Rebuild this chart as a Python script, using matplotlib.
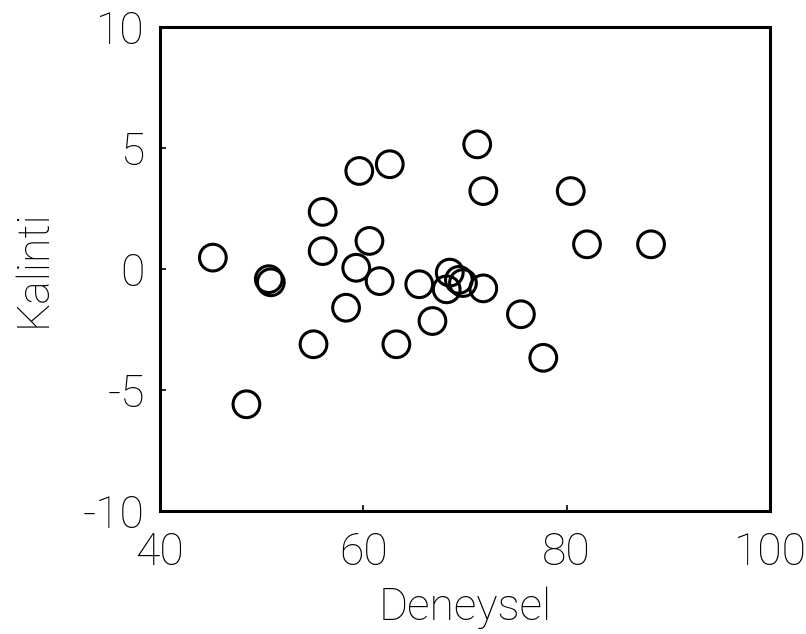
import matplotlib
matplotlib.use("Agg")
import matplotlib.pyplot as plt

# observed values vs residuals
deneysel = [45.2, 50.7, 50.9, 48.5, 55.1, 56.0, 56.0, 58.3, 59.6, 62.6,
            60.6, 59.3, 61.6, 63.25, 65.5, 66.8, 68.5, 68.2, 69.4, 69.8,
            71.8, 71.2, 71.8, 80.4, 82.0, 88.3, 75.5, 77.7]
kalinti = [0.47, -0.42, -0.55, -5.59, -3.11, 2.36, 0.74, -1.60, 4.05, 4.33,
           1.16, 0.05, -0.50, -3.11, -0.63, -2.15, -0.15, -0.84, -0.45, -0.58,
           -0.80, 5.15, 3.22, 3.22, 1.02, 1.02, -1.87, -3.67]

X_TICKS = [40, 60, 80, 100]
Y_TICKS = [-10, -5, 0, 5, 10]

plt.rcParams["font.family"] = ["Roboto", "Liberation Sans", "DejaVu Sans"]
plt.rcParams["font.weight"] = "light"
plt.rcParams["axes.unicode_minus"] = False

fig = plt.figure(figsize=(8.06, 6.34), dpi=100)
ax = fig.add_axes([160 / 806, 123 / 634, 610 / 806, 484 / 634])

ax.scatter(deneysel, kalinti, s=370, facecolors="none", edgecolors="black",
           linewidths=2.2, zorder=3)

ax.set_xlim(40, 100)
ax.set_ylim(-10, 10)
ax.set_xticks(X_TICKS)
ax.set_yticks(Y_TICKS)
ax.tick_params(direction="in", length=4, width=1.2, labelsize=32,
               colors="black")
ax.tick_params(axis="y", pad=11)
ax.tick_params(axis="x", pad=15)
for s in ax.spines.values():
    s.set_linewidth(2.2)

fig.text(46 / 806, 1 - 268 / 634, "Kalinti", rotation=90,
         rotation_mode="anchor", ha="center", va="baseline", fontsize=32)
fig.text(465 / 806, 1 - 620 / 634, "Deneysel", ha="center", va="baseline",
         fontsize=32)

fig.savefig("out.png", dpi=100)
